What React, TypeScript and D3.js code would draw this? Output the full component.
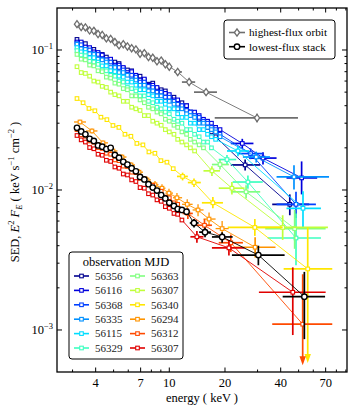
import * as d3 from "d3";

// energy grid (keV) shared by the densely binned spectra
const energyGrid = [3.17, 3.34, 3.52, 3.71, 3.91, 4.12, 4.34, 4.57, 4.82, 5.08, 5.35, 5.64, 5.94, 6.26, 6.6, 6.95, 7.33, 7.72, 8.14, 8.58, 9.04, 9.52, 10.0, 10.6, 11.1, 11.7, 12.4, 13.0, 13.7, 14.5, 15.3, 16.1, 16.9, 17.8, 18.8];
const yellowEnergy = [3.17, 3.42, 3.68, 3.96, 4.27, 4.6, 4.96, 5.34, 5.76, 6.2, 6.68, 7.2, 7.76, 8.36, 9.01, 9.71, 10.5];
const orangeEnergy = [3.29, 3.82, 4.38, 4.96, 5.55, 6.21, 6.86, 7.58, 8.37, 9.13, 9.96, 11.0, 12.5, 14.3, 16.4, 19.3];

type Tail = { e: number; f: number; eLo: number; eHi: number; fLo: number; fHi: number; ul?: boolean };

// highest-flux orbit (grey) and lowest-flux stack (black)
const sedHighest = [0.153, 0.146, 0.145, 0.138, 0.137, 0.13, 0.128, 0.121, 0.12, 0.114, 0.108, 0.11, 0.106, 0.103, 0.101, 0.094, 0.095, 0.089, 0.088, 0.083, 0.084, 0.079, 0.076];
const tailHighest: Tail[] = [
  { e: 11.1, f: 0.0697, eLo: 10.6, eHi: 11.7, fLo: 0.067, fHi: 0.072 },
  { e: 12.8, f: 0.059, eLo: 11.7, eHi: 13.8, fLo: 0.0565, fHi: 0.0615 },
  { e: 15.8, f: 0.05, eLo: 13.6, eHi: 18.1, fLo: 0.0475, fHi: 0.0525 },
  { e: 29.8, f: 0.0327, eLo: 17.6, eHi: 49.6, fLo: 0.0305, fHi: 0.035 },
];
const sedLowest = [0.0278, 0.0262, 0.025, 0.0232, 0.0224, 0.0208, 0.0204, 0.0196, 0.02, 0.0178, 0.017, 0.0159, 0.0152, 0.0143, 0.0136, 0.0124, 0.0119, 0.011, 0.0104, 0.0099, 0.0092, 0.0087, 0.0081, 0.0077, 0.0073, 0.0072, 0.007];
const tailLowest: Tail[] = [
  { e: 13.6, f: 0.00581, eLo: 12.9, eHi: 14.4, fLo: 0.0054, fHi: 0.0062 },
  { e: 15.6, f: 0.005, eLo: 14.5, eHi: 16.8, fLo: 0.0046, fHi: 0.0054 },
  { e: 19.3, f: 0.00462, eLo: 17, eHi: 22, fLo: 0.0042, fHi: 0.005 },
  { e: 30.3, f: 0.00343, eLo: 21.8, eHi: 42, fLo: 0.0029, fHi: 0.004 },
  { e: 53.7, f: 0.00173, eLo: 41, eHi: 69.5, fLo: 0.00086, fHi: 0.0026 },
];

// individual observations
const mjdLabels = ["56356", "56116", "56368", "56335", "56115", "56329", "56363", "56307", "56340", "56294", "56312", "56307"];
const mjdColors = ["#00008f", "#0000dd", "#0040ff", "#0090ff", "#00ddff", "#3dffc0", "#80ff80", "#c0ff3a", "#ffe600", "#ff9400", "#ff4a00", "#e00000"];

const sed56356 = [0.119, 0.112, 0.111, 0.102, 0.101, 0.094, 0.093, 0.089, 0.083, 0.082, 0.08, 0.074, 0.072, 0.071, 0.064, 0.065, 0.061, 0.057, 0.058, 0.053, 0.052, 0.051, 0.046, 0.046, 0.042, 0.042, 0.04, 0.036, 0.035, 0.032, 0.031, 0.028, 0.026, 0.024];
const tail56356: Tail[] = [
  { e: 25.7, f: 0.0151, eLo: 21.5, eHi: 31, fLo: 0.0138, fHi: 0.0165 },
  { e: 44.8, f: 0.0079, eLo: 36, eHi: 57, fLo: 0.0066, fHi: 0.0093 },
];
const sed56116 = [0.114, 0.114, 0.105, 0.104, 0.097, 0.096, 0.092, 0.085, 0.086, 0.078, 0.078, 0.075, 0.069, 0.07, 0.066, 0.061, 0.062, 0.056, 0.056, 0.054, 0.05, 0.049, 0.048, 0.044, 0.044, 0.04, 0.04, 0.036, 0.036, 0.034, 0.032, 0.031, 0.03, 0.028, 0.027];
const tail56116: Tail[] = [
  { e: 24.8, f: 0.0215, eLo: 21.5, eHi: 28.5, fLo: 0.0198, fHi: 0.0232 },
  { e: 32.1, f: 0.0169, eLo: 27, eHi: 38, fLo: 0.0152, fHi: 0.0186 },
  { e: 51.9, f: 0.0122, eLo: 43, eHi: 63, fLo: 0.0093, fHi: 0.016 },
];
const sed56368 = [0.111, 0.109, 0.101, 0.1, 0.094, 0.093, 0.086, 0.085, 0.082, 0.076, 0.075, 0.072, 0.067, 0.066, 0.064, 0.059, 0.059, 0.055, 0.054, 0.05, 0.05, 0.046, 0.046, 0.043, 0.041, 0.04, 0.037, 0.036, 0.034, 0.033, 0.031, 0.03, 0.028, 0.027, 0.025];
const tail56368: Tail[] = [
  { e: 27.5, f: 0.0182, eLo: 23.5, eHi: 32, fLo: 0.0166, fHi: 0.0198 },
  { e: 48.4, f: 0.0079, eLo: 38, eHi: 62, fLo: 0.0063, fHi: 0.0097 },
];
const sed56335 = [0.11, 0.102, 0.101, 0.094, 0.093, 0.086, 0.085, 0.082, 0.075, 0.075, 0.069, 0.069, 0.066, 0.061, 0.061, 0.056, 0.056, 0.051, 0.051, 0.047, 0.047, 0.043, 0.043, 0.041, 0.038, 0.038, 0.035, 0.034, 0.033, 0.03, 0.03, 0.028, 0.027, 0.026, 0.024];
const tail56335: Tail[] = [
  { e: 29.5, f: 0.0172, eLo: 25, eHi: 35, fLo: 0.0157, fHi: 0.0188 },
  { e: 47.2, f: 0.0124, eLo: 38, eHi: 73, fLo: 0.0101, fHi: 0.015 },
];
const sed56115 = [0.104, 0.097, 0.096, 0.088, 0.088, 0.082, 0.077, 0.077, 0.071, 0.07, 0.065, 0.064, 0.059, 0.059, 0.056, 0.052, 0.052, 0.048, 0.047, 0.043, 0.043, 0.041, 0.038, 0.038, 0.035, 0.033, 0.033, 0.03, 0.03, 0.027, 0.027, 0.025, 0.024, 0.023];
const tail56115: Tail[] = [
  { e: 23.5, f: 0.019, eLo: 20.5, eHi: 27, fLo: 0.0174, fHi: 0.0206 },
  { e: 52.8, f: 0.0074, eLo: 43, eHi: 66, fLo: 0.0053, fHi: 0.0098 },
];
const sed56329 = [0.099, 0.092, 0.091, 0.083, 0.082, 0.079, 0.072, 0.071, 0.066, 0.065, 0.06, 0.059, 0.054, 0.053, 0.051, 0.047, 0.047, 0.043, 0.042, 0.039, 0.038, 0.036, 0.035, 0.032, 0.031, 0.03, 0.027, 0.027, 0.025, 0.024, 0.022, 0.022, 0.02];
const tail56329: Tail[] = [
  { e: 20.5, f: 0.0165, eLo: 18.5, eHi: 23, fLo: 0.0152, fHi: 0.0178 },
  { e: 26.6, f: 0.0114, eLo: 22, eHi: 32, fLo: 0.0102, fHi: 0.0127 },
  { e: 48.4, f: 0.00454, eLo: 34, eHi: 66, fLo: 0.0029, fHi: 0.0068 },
];
const sed56363 = [0.093, 0.086, 0.085, 0.078, 0.077, 0.071, 0.07, 0.064, 0.063, 0.058, 0.057, 0.053, 0.052, 0.047, 0.047, 0.044, 0.042, 0.039, 0.038, 0.036, 0.035, 0.032, 0.031, 0.029, 0.028, 0.026, 0.025, 0.023, 0.022, 0.021, 0.02];
const tail56363: Tail[] = [
  { e: 18.8, f: 0.0152, eLo: 17, eHi: 21, fLo: 0.014, fHi: 0.0164 },
  { e: 26.0, f: 0.0097, eLo: 21.5, eHi: 31, fLo: 0.0087, fHi: 0.0108 },
  { e: 47.6, f: 0.0053, eLo: 33, eHi: 70, fLo: 0.0038, fHi: 0.0072 },
];
const sed56307a = [0.076, 0.069, 0.068, 0.065, 0.06, 0.059, 0.055, 0.054, 0.05, 0.048, 0.047, 0.043, 0.043, 0.039, 0.038, 0.037, 0.034, 0.034, 0.031, 0.03, 0.029, 0.027, 0.026, 0.025, 0.023, 0.022, 0.021, 0.02, 0.019];
const tail56307a: Tail[] = [
  { e: 17.0, f: 0.0137, eLo: 15.3, eHi: 18.8, fLo: 0.0126, fHi: 0.0148 },
  { e: 21.8, f: 0.0103, eLo: 18.5, eHi: 25.5, fLo: 0.0093, fHi: 0.0114 },
  { e: 41.0, f: 0.0054, eLo: 28, eHi: 72, fLo: 0.0044, fHi: 0.0066 },
];
const sed56340 = [0.045, 0.042, 0.0382, 0.0368, 0.0331, 0.0318, 0.0289, 0.028, 0.025, 0.0242, 0.0215, 0.021, 0.0187, 0.0183, 0.0162, 0.0158, 0.0142];
const tail56340: Tail[] = [
  { e: 11.8, f: 0.0125, eLo: 11.0, eHi: 12.6, fLo: 0.0117, fHi: 0.0133 },
  { e: 13.6, f: 0.0113, eLo: 12.6, eHi: 14.8, fLo: 0.0105, fHi: 0.0121 },
  { e: 17.2, f: 0.0081, eLo: 15, eHi: 19.5, fLo: 0.0074, fHi: 0.0089 },
  { e: 29.0, f: 0.0054, eLo: 20.7, eHi: 41, fLo: 0.0047, fHi: 0.0062 },
  { e: 56.0, f: 0.00273, eLo: 41.5, eHi: 76, fLo: 0.00058, fHi: 0.0054, ul: true },
];
const sed56294 = [0.0306, 0.0264, 0.0217, 0.019, 0.0172, 0.0151, 0.0134, 0.0118, 0.0109, 0.0103, 0.0095, 0.0088, 0.0079, 0.0072, 0.0062, 0.0053];
const err56294 = [0.0012, 0.0011, 0.0009, 0.0008, 0.0008, 0.0007, 0.0007, 0.0007, 0.0007, 0.0007, 0.0007, 0.0007, 0.0007, 0.0007, 0.0007, 0.0007];
const tail56294: Tail[] = [
  { e: 29.1, f: 0.0039, eLo: 22.5, eHi: 37.5, fLo: 0.0033, fHi: 0.0046 },
];
const sed56312 = [0.027, 0.0248, 0.0242, 0.0224, 0.0219, 0.0201, 0.0198, 0.0183, 0.018, 0.0164, 0.0162, 0.0148, 0.0147, 0.0134, 0.0133, 0.0121, 0.012, 0.0109, 0.0108, 0.0099, 0.0098, 0.0089, 0.0088, 0.0081, 0.0079];
const tail56312: Tail[] = [
  { e: 12.6, f: 0.0068, eLo: 11.8, eHi: 13.4, fLo: 0.0062, fHi: 0.0074 },
  { e: 15.5, f: 0.0056, eLo: 14, eHi: 17, fLo: 0.005, fHi: 0.0062 },
  { e: 21.5, f: 0.0042, eLo: 18.5, eHi: 25, fLo: 0.0036, fHi: 0.0048 },
  { e: 52.6, f: 0.0011, eLo: 36, eHi: 76, fLo: 0.00056, fHi: 0.0025, ul: true },
];
const sed56307b = [0.0245, 0.0228, 0.022, 0.0201, 0.0197, 0.018, 0.0177, 0.0163, 0.016, 0.0146, 0.0143, 0.013, 0.0128, 0.0118, 0.0115, 0.0104, 0.0103, 0.0094, 0.0092, 0.0085, 0.0083, 0.0076, 0.0074, 0.0068, 0.0067, 0.0061];
const tail56307b: Tail[] = [
  { e: 14.1, f: 0.00463, eLo: 13, eHi: 15.3, fLo: 0.0042, fHi: 0.0051 },
  { e: 21.0, f: 0.00386, eLo: 17, eHi: 25.5, fLo: 0.0034, fHi: 0.0044 },
  { e: 46.5, f: 0.00186, eLo: 30.5, eHi: 70, fLo: 0.00092, fHi: 0.0028 },
];

const xMajor = [4, 7, 10, 20, 40, 70];
const xMinor = [3, 5, 6, 8, 9, 30, 50, 60, 80, 90];
const yDecades = [-3, -2, -1];

const W = 358;
const H = 414;
const left = 57, right = 347, top = 8, bottom = 372;
const FONT = "Liberation Serif";

type Series = {
  label: string;
  color: string;
  energies: number[];
  sed: number[];
  err?: number[];
  tail: Tail[];
  marker: "square" | "circle" | "diamond";
  bars?: boolean;
};

const observations: Series[] = [
  { energies: energyGrid, sed: sed56356, tail: tail56356 },
  { energies: energyGrid, sed: sed56116, tail: tail56116 },
  { energies: energyGrid, sed: sed56368, tail: tail56368 },
  { energies: energyGrid, sed: sed56335, tail: tail56335 },
  { energies: energyGrid, sed: sed56115, tail: tail56115 },
  { energies: energyGrid, sed: sed56329, tail: tail56329 },
  { energies: energyGrid, sed: sed56363, tail: tail56363 },
  { energies: energyGrid, sed: sed56307a, tail: tail56307a },
  { energies: yellowEnergy, sed: sed56340, tail: tail56340 },
  { energies: orangeEnergy, sed: sed56294, err: err56294, tail: tail56294, bars: true },
  { energies: energyGrid, sed: sed56312, tail: tail56312 },
  { energies: energyGrid, sed: sed56307b, tail: tail56307b },
].map((s, i) => ({ ...s, label: mjdLabels[i], color: mjdColors[i], marker: "square" as const }));

const lowest: Series = { label: "lowest-flux stack", color: "#000000", energies: energyGrid, sed: sedLowest, tail: tailLowest, marker: "circle" };
const highest: Series = { label: "highest-flux orbit", color: "#6e6e6e", energies: energyGrid, sed: sedHighest, tail: tailHighest, marker: "diamond", bars: true };

function Marker({ kind, cx, cy, color }: { kind: string; cx: number; cy: number; color: string }) {
  if (kind === "circle") return <circle cx={cx} cy={cy} r={2.7} fill="#fff" stroke={color} strokeWidth={1.4} />;
  if (kind === "diamond")
    return <path d={`M${cx},${cy - 3.6}L${cx + 2.6},${cy}L${cx},${cy + 3.6}L${cx - 2.6},${cy}Z`} fill="#fff" stroke={color} strokeWidth={1.3} />;
  return <rect x={cx - 1.8} y={cy - 1.8} width={3.6} height={3.6} fill="#fff" stroke={color} strokeWidth={1.1} />;
}

export default function App() {
  const x = d3.scaleLog().domain([2.472, 91.3]).range([left, right]);
  const y = d3.scaleLog().domain([5.01e-4, 0.1995]).range([bottom, top]);
  const line = d3.line<{ e: number; f: number }>().x((d) => x(d.e)).y((d) => y(d.f));

  const drawSeries = (s: Series, key: string) => {
    const dense = s.sed.map((f, i) => ({ e: s.energies[i], f }));
    const all = [...dense, ...s.tail];
    const n = dense.length;
    const edge = (i: number) => Math.sqrt(s.energies[i] * s.energies[i + 1]);
    return (
      <g key={key}>
        <path d={line(all) || ""} fill="none" stroke={s.color} strokeWidth={0.9} />
        {s.bars &&
          dense.map((d, i) => {
            const lo = i > 0 ? edge(i - 1) : (d.e * d.e) / edge(0);
            const hi = i < n - 1 ? edge(i) : (d.e * d.e) / edge(i - 1);
            const er = s.err ? s.err[i] : 0;
            return (
              <g key={i} stroke={s.color} strokeWidth={1.3}>
                <line x1={x(lo)} x2={x(hi)} y1={y(d.f)} y2={y(d.f)} />
                {er > 0 && <line x1={x(d.e)} x2={x(d.e)} y1={y(d.f - er)} y2={y(d.f + er)} />}
              </g>
            );
          })}
        {s.tail.map((t, i) => {
          const cx = x(t.e);
          const yb = y(t.fLo);
          return (
            <g key={"t" + i} stroke={s.color} strokeWidth={1.7}>
              <line x1={x(t.eLo)} x2={x(t.eHi)} y1={y(t.f)} y2={y(t.f)} />
              <line x1={cx} x2={cx} y1={y(t.fHi)} y2={t.ul ? yb - 6 : yb} />
              {t.ul && <path d={`M${cx - 3.2},${yb - 9}L${cx + 3.2},${yb - 9}L${cx},${yb}Z`} fill={s.color} stroke="none" />}
            </g>
          );
        })}
        {all.map((d, i) => (
          <Marker key={"m" + i} kind={s.marker} cx={x(d.e)} cy={y(d.f)} color={s.color} />
        ))}
      </g>
    );
  };

  // ticks on all four sides, pointing inwards
  const ticks: JSX.Element[] = [];
  const addX = (v: number, len: number) => {
    const px = x(v);
    ticks.push(<line key={"xb" + v} x1={px} x2={px} y1={bottom} y2={bottom - len} />);
    ticks.push(<line key={"xt" + v} x1={px} x2={px} y1={top} y2={top + len} />);
  };
  xMajor.forEach((v) => addX(v, 4.5));
  xMinor.forEach((v) => addX(v, 2.5));
  yDecades.forEach((p) => {
    for (let m = 1; m < 10; m++) {
      const v = m * Math.pow(10, p);
      const len = m === 1 ? 5 : 2.5;
      const py = y(v);
      if (py < top || py > bottom) continue;
      ticks.push(<line key={"yl" + v} x1={left} x2={left + len} y1={py} y2={py} />);
      ticks.push(<line key={"yr" + v} x1={right} x2={right - len} y1={py} y2={py} />);
    }
  });
  [2e-1].forEach((v) => {
    const py = y(v);
    if (py >= top) ticks.push(<line key="y02" x1={left} x2={left + 2.5} y1={py} y2={py} />);
  });

  const rowY = (k: number) => 276 + k * 14.4;

  return (
    <svg width={W} height={H} style={{ position: "absolute", left: 0, top: 0, background: "#fff" }} fontFamily={FONT}>
      <defs>
        <clipPath id="plotClip">
          <rect x={left} y={top} width={right - left} height={bottom - top} />
        </clipPath>
      </defs>
      <g clipPath="url(#plotClip)">
        {observations.map((s, i) => drawSeries(s, "o" + i))}
        {drawSeries(lowest, "low")}
        {drawSeries(highest, "high")}
      </g>

      <g stroke="#000" strokeWidth={1}>{ticks}</g>
      <rect x={left} y={top} width={right - left} height={bottom - top} fill="none" stroke="#000" strokeWidth={1.3} />

      {/* tick labels */}
      {xMajor.map((v) => (
        <text key={"xl" + v} x={x(v)} y={387} textAnchor="middle" fontSize={12.5}>
          {v}
        </text>
      ))}
      {yDecades.map((p) => (
        <text key={"ylab" + p} x={53} y={y(Math.pow(10, p)) + 4.5} textAnchor="end" fontSize={12.5}>
          10<tspan dy={-5.5} fontSize={8.5}>{"\u2212" + -p}</tspan>
        </text>
      ))}

      {/* axis titles */}
      <text x={202} y={402} textAnchor="middle" fontSize={12.5}>
        {"energy ( keV )"}
      </text>
      <text transform="translate(18.5,192) rotate(-90)" textAnchor="middle" fontSize={12.5}>
        {"SED, "}
        <tspan fontStyle="italic">E</tspan>
        <tspan dy={-5} fontSize={8.5}>2</tspan>
        <tspan dy={5}>{" "}</tspan>
        <tspan fontStyle="italic">F</tspan>
        <tspan dy={3} fontSize={8.5} fontStyle="italic">E</tspan>
        <tspan dy={-3}>{" ( keV s"}</tspan>
        <tspan dy={-5} fontSize={8.5}>{"\u22121"}</tspan>
        <tspan dy={5}>{" cm"}</tspan>
        <tspan dy={-5} fontSize={8.5}>{"\u22122"}</tspan>
        <tspan dy={5}>{" )"}</tspan>
      </text>

      {/* upper-right legend */}
      <rect x={224} y={20} width={111} height={39} rx={3} fill="#fff" stroke="#000" strokeWidth={1} />
      {[highest, lowest].map((s, k) => {
        const ly = 32.5 + k * 14.2;
        return (
          <g key={"lg" + k}>
            <line x1={229} x2={245} y1={ly} y2={ly} stroke={s.color} strokeWidth={1.6} />
            <Marker kind={s.marker} cx={237} cy={ly} color={s.color} />
            <text x={249} y={ly + 3.8} fontSize={11.2}>
              {s.label}
            </text>
          </g>
        );
      })}

      {/* observation legend */}
      <rect x={69} y={252} width={114} height={107} rx={3} fill="#fff" stroke="#000" strokeWidth={1} />
      <text x={126} y={266} textAnchor="middle" fontSize={12.5}>
        observation MJD
      </text>
      {observations.map((s, i) => {
        const col = Math.floor(i / 6);
        const ly = rowY(i % 6);
        const x0 = col === 0 ? 74 : 130;
        return (
          <g key={"ol" + i}>
            <line x1={x0} x2={x0 + 15} y1={ly} y2={ly} stroke={s.color} strokeWidth={1.6} />
            <Marker kind="square" cx={x0 + 7.5} cy={ly} color={s.color} />
            <text x={x0 + 21} y={ly + 3.8} fontSize={11} fill="#222">
              {s.label}
            </text>
          </g>
        );
      })}
    </svg>
  );
}
